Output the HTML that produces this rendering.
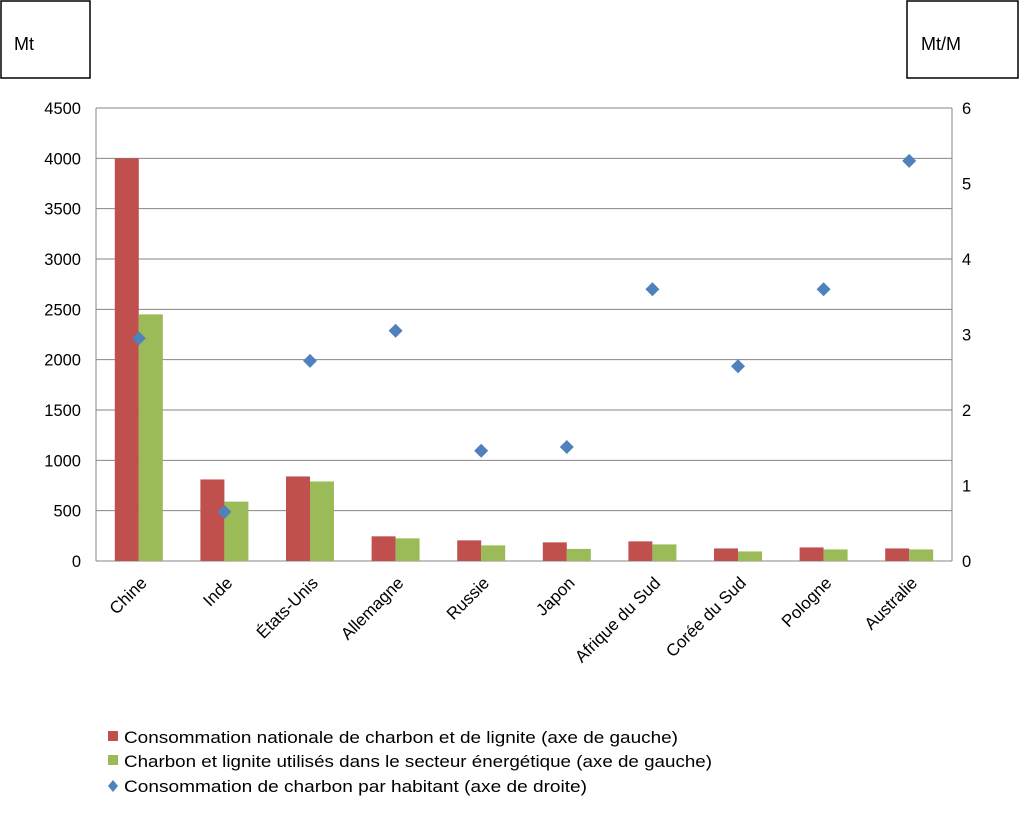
<!DOCTYPE html>
<html><head><meta charset="utf-8"><style>
body{margin:0;background:#fff;font-family:"Liberation Sans",sans-serif;}
svg text{font-family:"Liberation Sans",sans-serif;fill:#000;}
</style></head><body>
<svg id="c" width="1024" height="824">
<rect x="1" y="1" width="89" height="77" fill="#fff" stroke="#000" stroke-width="1.5"/>
<text x="14" y="50" font-size="18">Mt</text>
<rect x="907" y="1" width="111" height="77" fill="#fff" stroke="#000" stroke-width="1.5"/>
<text x="921" y="50" font-size="18">Mt/M</text>
<g id="grid"></g><g id="bars"></g><g id="pts"></g><g id="ax"></g>
<g>
<rect x="108" y="731" width="10" height="10" fill="#c0504d"/>
<text x="124" y="743" font-size="17" textLength="554" lengthAdjust="spacingAndGlyphs">Consommation nationale de charbon et de lignite (axe de gauche)</text>
<rect x="108" y="755" width="10" height="10" fill="#9bbb59"/>
<text x="124" y="767" font-size="17" textLength="588" lengthAdjust="spacingAndGlyphs">Charbon et lignite utilisés dans le secteur énergétique (axe de gauche)</text>
<path d="M113 780 L118 786 L113 792 L108 786 Z" fill="#4f81bd"/>
<text x="124" y="792" font-size="17" textLength="463" lengthAdjust="spacingAndGlyphs">Consommation de charbon par habitant (axe de droite)</text>
</g>
</svg>
<script>
const categories=["Chine","Inde","États-Unis","Allemagne","Russie","Japon","Afrique du Sud","Corée du Sud","Pologne","Australie"];
const consumption=[4000,810,840,245,205,185,195,125,135,125];
const energySector=[2450,590,790,225,155,120,165,95,115,115];
const perCapita=[2.95,0.65,2.65,3.05,1.46,1.51,3.6,2.58,3.6,5.3];
const leftTicks=[0,500,1000,1500,2000,2500,3000,3500,4000,4500];
const rightTicks=[0,1,2,3,4,5,6];
const NS="http://www.w3.org/2000/svg";
const X0=96,X1=952,Y0=561,Y1=108;
const yL=v=>Y0-(v/4500)*(Y0-Y1);
const yR=v=>Y0-(v/6)*(Y0-Y1);
const bw=(X1-X0)/categories.length;
const xC=i=>X0+bw*(i+0.5);
function mk(p,t,a){const e=document.createElementNS(NS,t);for(const k in a)e.setAttribute(k,a[k]);document.getElementById(p).appendChild(e);return e;}
leftTicks.forEach(v=>{
 const l=mk('grid','line',{x1:X0,x2:X1,y1:yL(v),y2:yL(v),stroke:'#868686','stroke-width':1});
 
 
 const t=mk('ax','text',{x:X0-15,y:yL(v)+6,'font-size':16.5,'text-anchor':'end'});t.textContent=v;
 
 
});
rightTicks.forEach(v=>{
 const t=mk('ax','text',{x:X1+10,y:yR(v)+6,'font-size':16.5});t.textContent=v;
 
 
});
mk('ax','line',{x1:X0,x2:X0,y1:Y1,y2:Y0,stroke:'#868686'});
mk('ax','line',{x1:X1,x2:X1,y1:Y1,y2:Y0,stroke:'#868686'});
categories.forEach((c,i)=>{
 const cx=xC(i);
 const r=mk('bars','rect',{x:cx-24,y:yL(consumption[i]),width:24,height:Y0-yL(consumption[i]),fill:'#c0504d'});
 
 
 const g=mk('bars','rect',{x:cx,y:yL(energySector[i]),width:24,height:Y0-yL(energySector[i]),fill:'#9bbb59'});
 
 
 const y=yR(perCapita[i]);
 const d=mk('pts','path',{d:`M${cx} ${y-7}L${cx+7} ${y}L${cx} ${y+7}L${cx-7} ${y}Z`,fill:'#4f81bd'});
 
 
 const t=mk('ax','text',{x:cx+9,y:584,'font-size':17,'text-anchor':'end',transform:`rotate(-45 ${cx+9} 584)`});
 t.textContent=c;
 
 
});
</script>
</body></html>
